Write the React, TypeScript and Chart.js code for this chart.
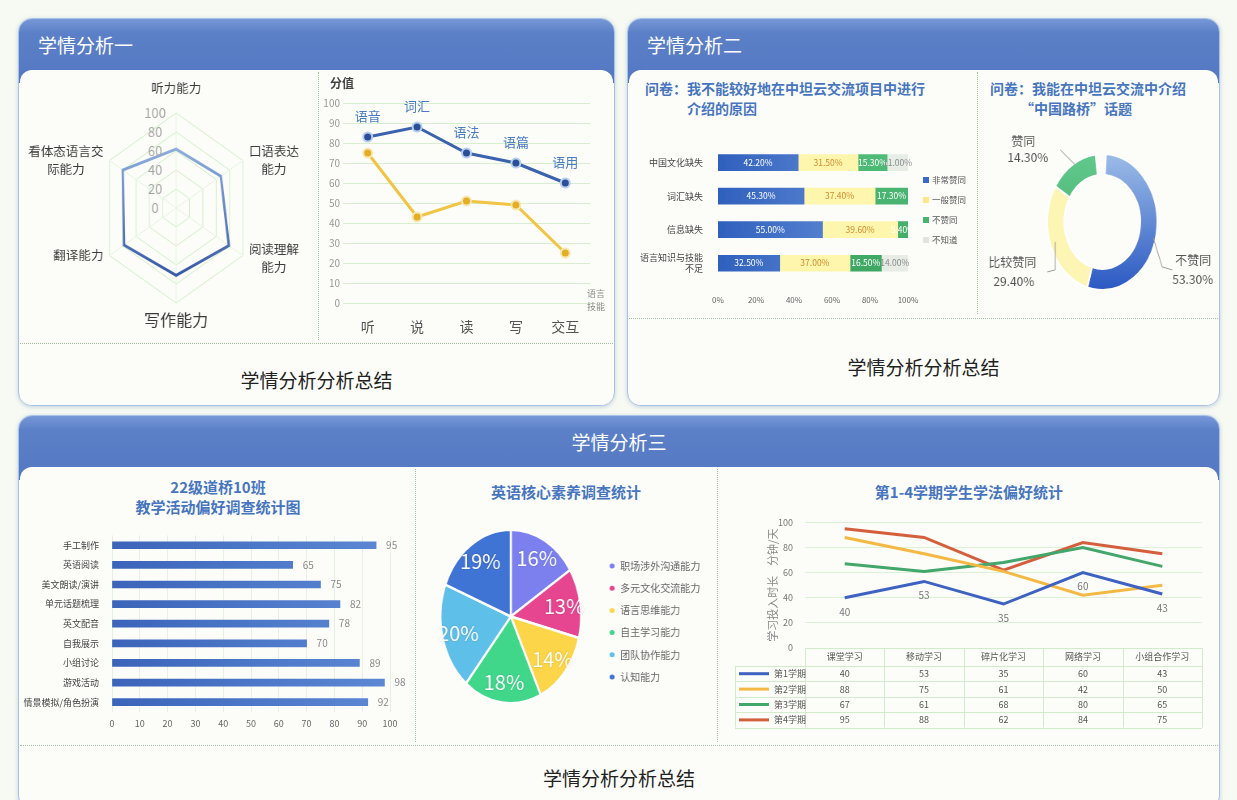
import React, { useEffect, useRef } from 'react';
import { Chart, registerables } from 'chart.js';

Chart.register(...registerables);

const FONT = '"Noto Sans CJK SC", "Noto Sans", sans-serif';
Chart.defaults.font.family = FONT;

// ---------- data ----------
const radarAxes = [['听力能力'], ['口语表达', '能力'], ['阅读理解', '能力'], ['写作能力'], ['翻译能力'], ['看体态语言交', '际能力']];
const radarValues = [62, 67, 79, 71, 78, 80];

const skillCats = ['听', '说', '读', '写', '交互'];
const skillTopics = ['语音', '词汇', '语法', '语篇', '语用'];
const scoreA = [83, 88, 75, 70, 60];
const scoreB = [75, 43, 51, 49, 25];

const reasonCats = ['中国文化缺失', '词汇缺失', '信息缺失', ['语言知识与技能', '不足']];
const reasonSeries = ['非常赞同', '一般赞同', '不赞同', '不知道'];
const agreeStrong = [42.2, 45.3, 55.0, 32.5];
const agreeNormal = [31.5, 37.4, 39.6, 37.0];
const disagreeVals = [15.3, 17.3, 5.4, 16.5];
const unknownVals = [11.0, 0, 0, 14.0];
const reasonTicks = ['0%', '20%', '40%', '60%', '80%', '100%'];

const topicLabels = ['不赞同', '比较赞同', '赞同'];
const topicValues = [53.3, 29.4, 14.3];

const activityCats = ['手工制作', '英语阅读', '美文朗读/演讲', '单元话题梳理', '英文配音', '自我展示', '小组讨论', '游戏活动', '情景模拟/角色扮演'];
const activityValues = [95, 65, 75, 82, 78, 70, 89, 98, 92];

const literacyCats = ['职场涉外沟通能力', '多元文化交流能力', '语言思维能力', '自主学习能力', '团队协作能力', '认知能力'];
const literacyValues = [16, 13, 14, 18, 20, 19];

const methodCats = ['课堂学习', '移动学习', '碎片化学习', '网络学习', '小组合作学习'];
const termLabels = ['第1学期', '第2学期', '第3学期', '第4学期'];
const term1 = [40, 53, 35, 60, 43];
const term2 = [88, 75, 61, 42, 50];
const term3 = [67, 61, 68, 80, 65];
const term4 = [95, 88, 62, 84, 75];

// ---------- helpers ----------
const SQ = 0.81; // horizontal squeeze of the round charts

function sqText(ctx: CanvasRenderingContext2D, text: string, x: number, y: number, align: CanvasTextAlign) {
  ctx.save();
  ctx.translate(x, y);
  ctx.scale(1 / SQ, 1);
  ctx.textAlign = align;
  ctx.fillText(text, 0, 0);
  ctx.restore();
}

function hGrad(chart: any, c1: string, c2: string) {
  const a = chart.chartArea;
  if (!a) return c1;
  const g = chart.ctx.createLinearGradient(a.left, 0, a.right, 0);
  g.addColorStop(0, c1);
  g.addColorStop(1, c2);
  return g;
}
function vGrad(chart: any, c1: string, c2: string) {
  const a = chart.chartArea;
  if (!a) return c1;
  const g = chart.ctx.createLinearGradient(0, a.top, 0, a.bottom);
  g.addColorStop(0, c1);
  g.addColorStop(1, c2);
  return g;
}

const base = {
  responsive: false,
  animation: false,
  devicePixelRatio: 1,
};
const noPlug = { legend: { display: false }, tooltip: { enabled: false } };

// ---------- radar ----------
const RC = { x: 190, y: 136, r: 95 };
const radarTextPlugin = {
  id: 'radarText',
  afterDraw(chart: any) {
    const s = chart.scales.r;
    const ctx = chart.ctx as CanvasRenderingContext2D;
    ctx.save();
    ctx.textBaseline = 'middle';
    ctx.fillStyle = '#a5a5a5';
    ctx.font = `13px ${FONT}`;
    s.ticks.forEach((t: any) => {
      const y = s.yCenter - s.getDistanceFromCenterForValue(t.value);
      sqText(ctx, String(t.value), s.xCenter - 21 / SQ, y, 'center');
    });
    radarAxes.forEach((lines, i) => {
      const p = s.getPointPosition(i, s.drawingArea);
      const size = i === 3 ? 16 : 12.5;
      ctx.font = `${size}px ${FONT}`;
      ctx.fillStyle = '#3c3c3c';
      const lh = 18;
      const w = Math.max(...lines.map((l) => ctx.measureText(l).width));
      let cx = p.x;
      let cy = p.y;
      if (i === 0) cy = p.y - 25;
      else if (i === 3) cy = p.y + 17;
      else if (i === 1 || i === 2) cx = p.x + (w / 2 + 6) / SQ;
      else cx = p.x - (w / 2 + 6) / SQ;
      if (i === 2) cy += 3;
      lines.forEach((l, k) => {
        sqText(ctx, l, cx, cy + (k - (lines.length - 1) / 2) * lh, 'center');
      });
    });
    ctx.restore();
  },
};
function radarConfig(): any {
  return {
    type: 'radar',
    data: {
      labels: radarAxes.map((a) => a.join('')),
      datasets: [
        {
          data: radarValues,
          borderColor: (c: any) => {
            const ch = c.chart;
            const g = ch.ctx.createLinearGradient(0, RC.y - RC.r, 0, RC.y + RC.r);
            g.addColorStop(0, '#a6c6ec');
            g.addColorStop(1, '#26479a');
            return g;
          },
          borderWidth: 3,
          pointRadius: 0,
          fill: false,
        },
      ],
    },
    options: {
      ...base,
      plugins: noPlug,
      scales: {
        r: {
          min: 0,
          max: 100,
          ticks: { display: false, stepSize: 20 },
          pointLabels: { display: false },
          grid: { color: '#d3eec9', lineWidth: 1 },
          angleLines: { color: '#e6f4e0' },
          afterFit: (s: any) => {
            s.xCenter = RC.x;
            s.yCenter = RC.y;
            s.drawingArea = RC.r;
          },
        },
      },
    },
    plugins: [radarTextPlugin],
  };
}

// ---------- skills line ----------
const skillPlugin = {
  id: 'skillText',
  afterDraw(chart: any) {
    const ctx = chart.ctx as CanvasRenderingContext2D;
    ctx.save();
    ctx.textAlign = 'center';
    ctx.textBaseline = 'middle';
    ctx.fillStyle = '#4a7cc6';
    ctx.font = `13px ${FONT}`;
    chart.getDatasetMeta(0).data.forEach((pt: any, i: number) => {
      ctx.fillText(skillTopics[i], pt.x, pt.y - 21);
    });
    ctx.fillStyle = '#444';
    ctx.font = `bold 12px ${FONT}`;
    ctx.fillText('分值', 20, 11);
    ctx.fillStyle = '#8a8a8a';
    ctx.font = `9px ${FONT}`;
    ctx.fillText('语言', 274, 222);
    ctx.fillText('技能', 274, 235);
    ctx.restore();
  },
};
function skillConfig(): any {
  return {
    type: 'line',
    data: {
      labels: skillCats,
      datasets: [
        {
          data: scoreA,
          borderColor: '#3a62ad',
          borderWidth: 3,
          pointRadius: 4.5,
          pointBackgroundColor: '#2c4e98',
          pointBorderColor: '#b5cfee',
          pointBorderWidth: 2,
          tension: 0,
        },
        {
          data: scoreB,
          borderColor: '#f2c443',
          borderWidth: 3,
          pointRadius: 4.5,
          pointBackgroundColor: '#e3ad25',
          pointBorderColor: '#f7e8b3',
          pointBorderWidth: 2,
          tension: 0,
        },
      ],
    },
    options: {
      ...base,
      plugins: noPlug,
      layout: { padding: { top: 31, right: 22, left: 0, bottom: 0 } },
      scales: {
        x: {
          offset: true,
          grid: { display: false },
          border: { display: false },
          ticks: { color: '#555', font: { size: 14 }, padding: 7 },
          afterFit: (s: any) => {
            s.height = 35;
          },
        },
        y: {
          min: 0,
          max: 100,
          ticks: { stepSize: 10, color: '#9a9a9a', font: { size: 10 }, padding: 3 },
          grid: { color: '#d7efcf', drawTicks: false },
          border: { display: false },
          afterFit: (s: any) => {
            s.width = 21;
          },
        },
      },
    },
    plugins: [skillPlugin],
  };
}

// ---------- stacked reasons ----------
const stackTextColors = ['#ffffff', '#cf8a2c', '#ffffff', '#8a8a8a'];
const stackLegendColors = ['#3a6bc4', '#fbe98a', '#49b46e', '#dfe5dd'];
const stackPlugin = {
  id: 'stackText',
  afterDatasetsDraw(chart: any) {
    const ctx = chart.ctx as CanvasRenderingContext2D;
    ctx.save();
    ctx.textAlign = 'center';
    ctx.textBaseline = 'middle';
    ctx.font = `8.5px ${FONT}`;
    chart.data.datasets.forEach((ds: any, di: number) => {
      chart.getDatasetMeta(di).data.forEach((el: any, i: number) => {
        const v = ds.data[i];
        if (!v) return;
        ctx.fillStyle = stackTextColors[di];
        ctx.fillText(v.toFixed(2) + '%', (el.x + el.base) / 2, el.y);
      });
    });
    ctx.textAlign = 'left';
    ctx.fillStyle = '#555';
    reasonSeries.forEach((name, i) => {
      const y = 52 + i * 20;
      ctx.fillStyle = stackLegendColors[i];
      ctx.fillRect(293, y - 3, 6, 6);
      ctx.fillStyle = '#555';
      ctx.fillText(name, 302, y);
    });
    ctx.restore();
  },
};
function stackConfig(): any {
  const series = [agreeStrong, agreeNormal, disagreeVals, unknownVals];
  const colors: any[] = [
    (c: any) => hGrad(c.chart, '#2f60bd', '#6f97dc'),
    '#fff6ad',
    (c: any) => vGrad(c.chart, '#4fbd79', '#3ea562'),
    '#e7ece5',
  ];
  return {
    type: 'bar',
    data: {
      labels: reasonCats,
      datasets: series.map((d, i) => ({
        label: reasonSeries[i],
        data: d,
        backgroundColor: colors[i],
        barThickness: 16,
        borderWidth: 0,
      })),
    },
    options: {
      ...base,
      indexAxis: 'y',
      plugins: noPlug,
      layout: { padding: { top: 6, right: 67, left: 0, bottom: 0 } },
      scales: {
        x: {
          stacked: true,
          min: 0,
          max: 100,
          grid: { display: false },
          border: { display: false },
          ticks: {
            stepSize: 20,
            color: '#666',
            font: { size: 8 },
            padding: 7,
            callback: (v: any, i: number) => reasonTicks[i],
          },
          afterFit: (s: any) => {
            s.height = 28;
          },
        },
        y: {
          stacked: true,
          grid: { display: false },
          border: { display: false },
          ticks: { color: '#444', font: { size: 9 }, padding: 7 },
          afterFit: (s: any) => {
            s.width = 88;
          },
        },
      },
    },
    plugins: [stackPlugin],
  };
}

// ---------- donut ----------
const donutSpots = [
  { text: [73, 39, 70, 58], line: [51, 16, 60, 45, 70, 48] },
  { text: [-114, 41, -109, 60], line: [-47, 20, -47, 48, -55, 50] },
  { text: [-91, -80, -95, -64], line: [-27, -57, -42, -72] },
];
const donutPlugin = {
  id: 'donutText',
  afterDraw(chart: any) {
    const ctx = chart.ctx as CanvasRenderingContext2D;
    const arc = chart.getDatasetMeta(0).data[0];
    const cx = arc.x;
    const cy = arc.y;
    ctx.save();
    ctx.strokeStyle = '#9a9a9a';
    ctx.lineWidth = 1;
    ctx.fillStyle = '#555';
    ctx.font = `12px ${FONT}`;
    ctx.textBaseline = 'middle';
    topicLabels.forEach((name, i) => {
      const s = donutSpots[i];
      ctx.beginPath();
      for (let k = 0; k < s.line.length; k += 2) {
        const x = cx + s.line[k] / SQ;
        const y = cy + s.line[k + 1];
        if (k === 0) ctx.moveTo(x, y);
        else ctx.lineTo(x, y);
      }
      ctx.stroke();
      sqText(ctx, name, cx + s.text[0] / SQ, cy + s.text[1], 'left');
      sqText(ctx, topicValues[i].toFixed(2) + '%', cx + s.text[2] / SQ, cy + s.text[3], 'left');
    });
    ctx.restore();
  },
};
function donutConfig(): any {
  return {
    type: 'doughnut',
    data: {
      labels: topicLabels,
      datasets: [
        {
          data: topicValues,
          backgroundColor: (c: any) => {
            const i = c.dataIndex;
            if (i === 0) return vGrad(c.chart, '#9dbde8', '#2a58c2');
            if (i === 1) return '#fdf5b4';
            return vGrad(c.chart, '#62c98c', '#3aa865');
          },
          borderColor: '#ffffff',
          borderWidth: 2,
        },
      ],
    },
    options: {
      ...base,
      rotation: 4,
      circumference: 349,
      cutout: '69%',
      plugins: noPlug,
      layout: { padding: { left: 82, right: 74, top: 35, bottom: 22 } },
    },
    plugins: [donutPlugin],
  };
}

// ---------- activity bars ----------
const activityPlugin = {
  id: 'activityText',
  afterDatasetsDraw(chart: any) {
    const ctx = chart.ctx as CanvasRenderingContext2D;
    ctx.save();
    ctx.fillStyle = '#8a8a8a';
    ctx.font = `10px ${FONT}`;
    ctx.textBaseline = 'middle';
    ctx.textAlign = 'left';
    chart.getDatasetMeta(0).data.forEach((el: any, i: number) => {
      ctx.fillText(String(activityValues[i]), el.x + 10, el.y);
    });
    ctx.restore();
  },
};
function activityConfig(): any {
  return {
    type: 'bar',
    data: {
      labels: activityCats,
      datasets: [
        {
          data: activityValues,
          backgroundColor: (c: any) => hGrad(c.chart, '#3b64ba', '#5d88d4'),
          barThickness: 7,
          borderWidth: 0,
        },
      ],
    },
    options: {
      ...base,
      indexAxis: 'y',
      plugins: noPlug,
      layout: { padding: { top: 9, right: 22, left: 0, bottom: 0 } },
      scales: {
        x: {
          min: 0,
          max: 100,
          grid: { color: '#e6f2e1', drawTicks: false },
          border: { display: false },
          ticks: { stepSize: 10, color: '#666', font: { size: 9 }, padding: 6 },
          afterFit: (s: any) => {
            s.height = 23;
          },
        },
        y: {
          grid: { display: false },
          border: { display: false },
          ticks: { color: '#444', font: { size: 9 }, padding: 5, autoSkip: false },
          afterFit: (s: any) => {
            s.width = 90;
          },
        },
      },
    },
    plugins: [activityPlugin],
  };
}

// ---------- literacy pie ----------
const pieColors = ['#7c80ee', '#e6468f', '#fcd548', '#40d78b', '#5ebfe9', '#3f73d4'];
const piePlugin = {
  id: 'pieText',
  afterDraw(chart: any) {
    const ctx = chart.ctx as CanvasRenderingContext2D;
    ctx.save();
    ctx.textBaseline = 'middle';
    ctx.font = `20px ${FONT}`;
    ctx.fillStyle = '#ffffff';
    ctx.shadowColor = 'rgba(0,0,0,0.18)';
    ctx.shadowBlur = 2;
    chart.getDatasetMeta(0).data.forEach((arc: any, i: number) => {
      const mid = (arc.startAngle + arc.endAngle) / 2;
      const r = arc.outerRadius * 0.77;
      sqText(ctx, literacyValues[i] + '%', arc.x + Math.cos(mid) * r, arc.y + Math.sin(mid) * r, 'center');
    });
    ctx.shadowBlur = 0;
    ctx.shadowColor = 'transparent';
    ctx.font = `10px ${FONT}`;
    literacyCats.forEach((name, i) => {
      const y = 51 + i * 22.2;
      ctx.fillStyle = pieColors[i];
      ctx.beginPath();
      ctx.ellipse(237, y, 2.5 / SQ, 2.5, 0, 0, Math.PI * 2);
      ctx.fill();
      ctx.fillStyle = '#666';
      sqText(ctx, name, 247, y, 'left');
    });
    ctx.restore();
  },
};
function pieConfig(): any {
  return {
    type: 'pie',
    data: {
      labels: literacyCats,
      datasets: [
        {
          data: literacyValues,
          backgroundColor: pieColors,
          borderColor: '#ffffff',
          borderWidth: 2.5,
        },
      ],
    },
    options: {
      ...base,
      plugins: noPlug,
      layout: { padding: { left: 24, top: 13.5, right: 164, bottom: 35.5 } },
    },
    plugins: [piePlugin],
  };
}

// ---------- terms line + table ----------
const termColors = ['#3d62c2', '#f3b944', '#43a66b', '#d45f3c'];
const termSeries = [term1, term2, term3, term4];
const termPlugin = {
  id: 'termTable',
  afterDraw(chart: any) {
    const ctx = chart.ctx as CanvasRenderingContext2D;
    const xs = chart.scales.x;
    const a = chart.chartArea;
    ctx.save();
    // labels of first term
    ctx.fillStyle = '#777';
    ctx.font = `10px ${FONT}`;
    ctx.textAlign = 'center';
    ctx.textBaseline = 'middle';
    chart.getDatasetMeta(0).data.forEach((pt: any, i: number) => {
      ctx.fillText(String(term1[i]), pt.x, pt.y + 14);
    });
    // table
    const colW = (xs.right - xs.left) / methodCats.length;
    const top = a.bottom;
    const headH = 18;
    const rowH = 15.4;
    const legL = xs.left - 70;
    const bottom = top + headH + rowH * termLabels.length;
    ctx.strokeStyle = '#d3ebcc';
    ctx.lineWidth = 1;
    ctx.beginPath();
    ctx.moveTo(xs.left, top + 0.5);
    ctx.lineTo(xs.right, top + 0.5);
    for (let r = 0; r <= termLabels.length; r++) {
      const y = Math.round(top + headH + r * rowH) + 0.5;
      ctx.moveTo(legL, y);
      ctx.lineTo(xs.right, y);
    }
    for (let k = 0; k <= methodCats.length; k++) {
      const x = Math.round(xs.left + k * colW) + 0.5;
      ctx.moveTo(x, top);
      ctx.lineTo(x, bottom);
    }
    ctx.moveTo(legL + 0.5, top + headH);
    ctx.lineTo(legL + 0.5, bottom);
    ctx.stroke();
    ctx.font = `9px ${FONT}`;
    ctx.fillStyle = '#555';
    methodCats.forEach((m, k) => {
      ctx.fillText(m, xs.left + (k + 0.5) * colW, top + headH / 2);
    });
    termLabels.forEach((t, r) => {
      const y = top + headH + (r + 0.5) * rowH;
      ctx.strokeStyle = termColors[r];
      ctx.lineWidth = 3;
      ctx.beginPath();
      ctx.moveTo(legL + 4, y);
      ctx.lineTo(legL + 34, y);
      ctx.stroke();
      ctx.fillStyle = '#555';
      ctx.textAlign = 'left';
      ctx.fillText(t, legL + 39, y);
      ctx.textAlign = 'center';
      termSeries[r].forEach((v, k) => {
        ctx.fillText(String(v), xs.left + (k + 0.5) * colW, y);
      });
    });
    ctx.restore();
  },
};
function termConfig(): any {
  return {
    type: 'line',
    data: {
      labels: methodCats,
      datasets: termSeries.map((d, i) => ({
        label: termLabels[i],
        data: d,
        borderColor: termColors[i],
        borderWidth: 3,
        pointRadius: 0,
        tension: 0,
      })),
    },
    options: {
      ...base,
      plugins: noPlug,
      layout: { padding: { top: 17, right: 13, left: 0, bottom: 0 } },
      scales: {
        x: {
          offset: true,
          grid: { display: false },
          border: { display: false },
          ticks: { display: false },
          afterFit: (s: any) => {
            s.height = 92;
          },
        },
        y: {
          min: 0,
          max: 100,
          grid: { color: '#ddf1d6', drawTicks: false },
          border: { display: false },
          ticks: { stepSize: 10, color: '#777', font: { size: 9 }, padding: 12 },
          title: {
            display: true,
            text: '学习投入时长    分钟/天',
            color: '#888',
            font: { size: 11 },
            padding: { top: 46, bottom: 0 },
          },
          afterFit: (s: any) => {
            s.width = 85;
          },
        },
      },
    },
    plugins: [termPlugin],
  };
}

// ---------- components ----------
type BoxProps = { left: number; top: number; width: number; height: number; squeeze?: boolean; make: () => any };
function ChartBox({ left, top, width, height, squeeze, make }: BoxProps) {
  const ref = useRef<HTMLCanvasElement | null>(null);
  const iw = squeeze ? Math.round(width / SQ) : width;
  useEffect(() => {
    const c = new Chart(ref.current as HTMLCanvasElement, make());
    return () => c.destroy();
  }, []);
  return (
    <canvas
      ref={ref}
      width={iw}
      height={height}
      style={{ position: 'absolute', left, top, width, height }}
    />
  );
}

function Panel({ x, y, w, h, title, center }: { x: number; y: number; w: number; h: number; title: string; center?: boolean }) {
  return (
    <div
      style={{
        position: 'absolute',
        left: x,
        top: y,
        width: w,
        height: h,
        borderRadius: 14,
        border: '1.5px solid #a9c3e7',
        boxSizing: 'border-box',
        background: '#fcfdf9',
        boxShadow: '0 1px 4px rgba(90,130,190,0.35)',
        overflow: 'hidden',
      }}
    >
      <div
        style={{
          position: 'absolute',
          left: 0,
          right: 0,
          top: 0,
          height: 64,
          background: 'linear-gradient(180deg,#7698d8 0px,#5c80c7 14px,#5378c2 64px)',
        }}
      />
      <div
        style={{
          position: 'absolute',
          left: 1,
          right: 1,
          top: 51,
          bottom: 0,
          background: '#fcfdf9',
          borderRadius: '12px 12px 0 0',
        }}
      />
      <div
        style={{
          position: 'absolute',
          left: center ? 0 : 19,
          right: center ? 0 : undefined,
          top: 0,
          height: 52,
          lineHeight: '52px',
          color: '#ffffff',
          fontSize: 19,
          textAlign: center ? 'center' : 'left',
        }}
      >
        {title}
      </div>
    </div>
  );
}

const dotH = (x: number, y: number, w: number) => (
  <div style={{ position: 'absolute', left: x, top: y, width: w, height: 0, borderTop: '1.5px dotted #9fc29d' }} />
);
const dotV = (x: number, y: number, h: number) => (
  <div style={{ position: 'absolute', left: x, top: y, width: 0, height: h, borderLeft: '1.5px dotted #9fc29d' }} />
);

const titleStyle: React.CSSProperties = {
  position: 'absolute',
  color: '#4775bf',
  fontWeight: 700,
  fontSize: 14,
  lineHeight: '20px',
  whiteSpace: 'nowrap',
};

export default function App() {
  return (
    <div
      style={{
        position: 'absolute',
        left: 0,
        top: 0,
        width: 1237,
        height: 800,
        overflow: 'hidden',
        background: '#f7faf2',
        fontFamily: FONT,
      }}
    >
      <Panel x={18} y={18} w={597} h={388} title="学情分析一" />
      <Panel x={627} y={18} w={593} h={388} title="学情分析二" />
      <Panel x={18} y={415} w={1202} h={395} title="学情分析三" center />

      {dotV(318, 72, 268)}
      {dotH(20, 343, 593)}
      {dotV(977, 72, 242)}
      {dotH(629, 318, 589)}
      {dotV(415, 469, 273)}
      {dotV(717, 469, 273)}
      {dotH(20, 745, 1198)}

      <div style={{ position: 'absolute', left: 20, width: 593, top: 368, textAlign: 'center', fontSize: 19, lineHeight: '24px', color: '#222' }}>
        学情分析分析总结
      </div>
      <div style={{ position: 'absolute', left: 629, width: 589, top: 355, textAlign: 'center', fontSize: 19, lineHeight: '24px', color: '#222' }}>
        学情分析分析总结
      </div>
      <div style={{ position: 'absolute', left: 20, width: 1198, top: 766, textAlign: 'center', fontSize: 19, lineHeight: '24px', color: '#222' }}>
        学情分析分析总结
      </div>

      <div style={{ ...titleStyle, left: 645, top: 78 }}>
        问卷：我不能较好地在中坦云交流项目中进行
        <br />
        <span style={{ paddingLeft: 42 }}>介绍的原因</span>
      </div>
      <div style={{ ...titleStyle, left: 990, top: 78 }}>
        问卷：我能在中坦云交流中介绍
        <br />
        <span style={{ paddingLeft: 30 }}>“中国路桥”话题</span>
      </div>
      <div style={{ ...titleStyle, left: 20, width: 396, top: 477, textAlign: 'center', fontSize: 15 }}>
        22级道桥10班
        <br />
        教学活动偏好调查统计图
      </div>
      <div style={{ ...titleStyle, left: 416, width: 300, top: 482, textAlign: 'center', fontSize: 15 }}>
        英语核心素养调查统计
      </div>
      <div style={{ ...titleStyle, left: 718, width: 502, top: 482, textAlign: 'center', fontSize: 15 }}>
        第1-4学期学生学法偏好统计
      </div>

      <ChartBox left={22} top={72} width={292} height={268} squeeze make={radarConfig} />
      <ChartBox left={322} top={72} width={290} height={266} make={skillConfig} />
      <ChartBox left={630} top={128} width={345} height={180} make={stackConfig} />
      <ChartBox left={980} top={118} width={238} height={195} squeeze make={donutConfig} />
      <ChartBox left={22} top={525} width={390} height={210} make={activityConfig} />
      <ChartBox left={420} top={515} width={295} height={225} squeeze make={pieConfig} />
      <ChartBox left={720} top={505} width={495} height={235} make={termConfig} />
    </div>
  );
}
